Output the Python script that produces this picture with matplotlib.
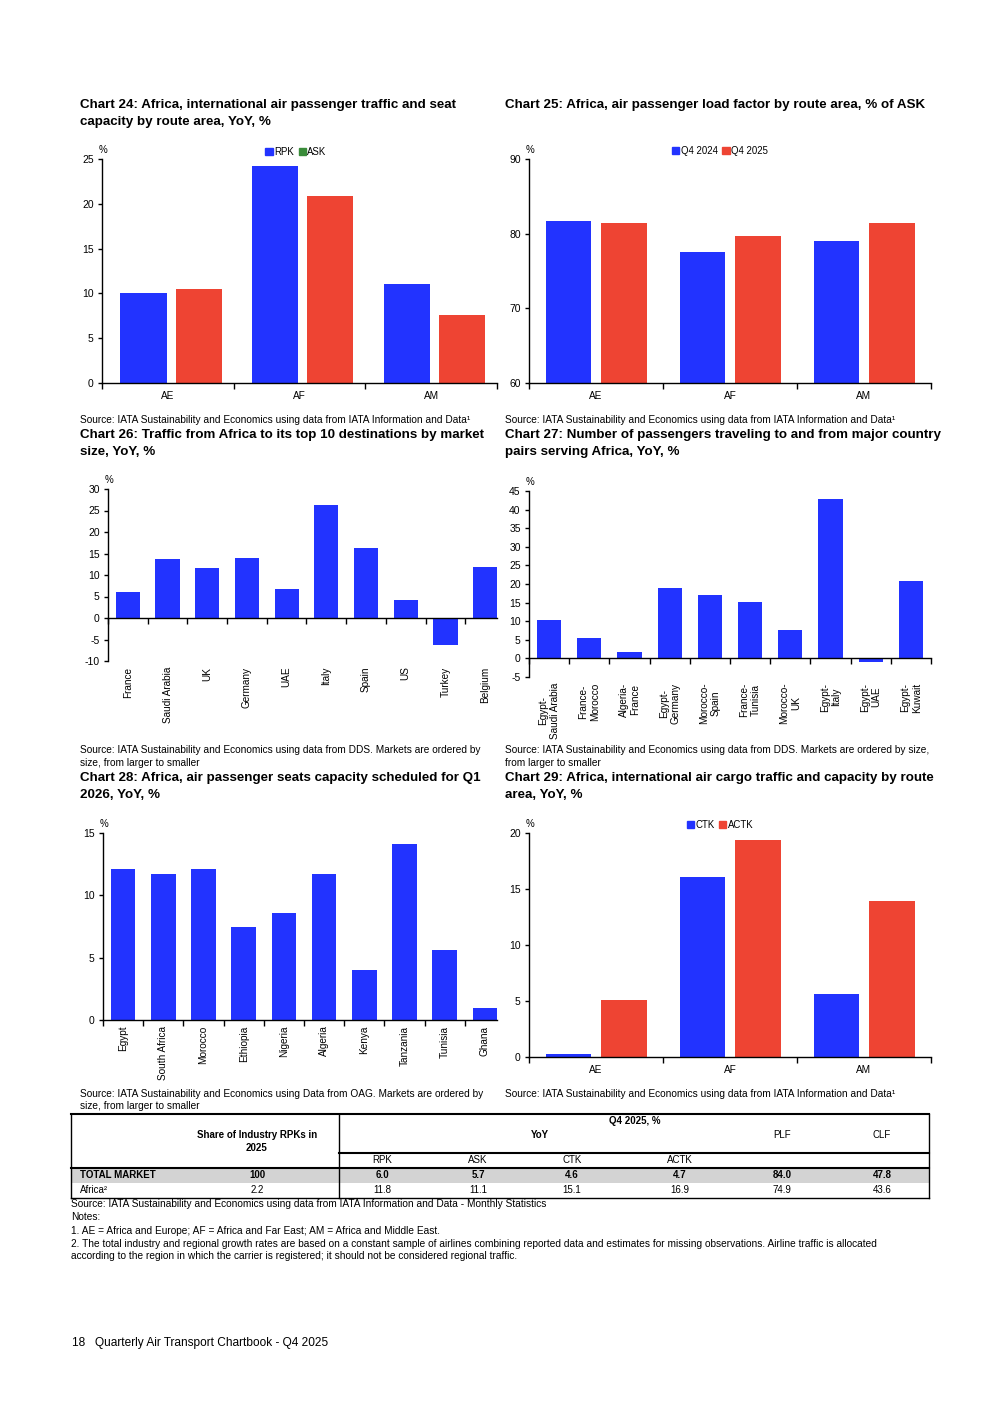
import numpy as np
import matplotlib
matplotlib.use("Agg")
import matplotlib.pyplot as plt
from matplotlib.patches import Patch, Rectangle
from matplotlib.lines import Line2D

plt.rcParams['font.family'] = ['Liberation Sans', 'DejaVu Sans']
plt.rcParams['axes.unicode_minus'] = False

BLUE = '#2233ff'
RED = '#ee4433'
GREEN = '#3a8c3a'

# chart 24
routes = ['AE', 'AF', 'AM']
c24_rpk = [10.1, 24.2, 11.0]
c24_ask = [10.5, 20.9, 7.6]
# chart 25
c25_q4_2024 = [81.7, 77.5, 79.0]
c25_q4_2025 = [81.4, 79.7, 81.4]
# chart 26
c26_dest = ['France', 'Saudi Arabia', 'UK', 'Germany', 'UAE', 'Italy', 'Spain', 'US', 'Turkey', 'Belgium']
c26_yoy = [6.1, 13.8, 11.7, 14.0, 6.8, 26.2, 16.3, 4.3, -6.2, 11.9]
# chart 27
c27_pairs = ['Egypt-\nSaudi Arabia', 'France-\nMorocco', 'Algeria-\nFrance', 'Egypt-\nGermany',
             'Morocco-\nSpain', 'France-\nTunisia', 'Morocco-\nUK', 'Egypt-\nItaly',
             'Egypt-\nUAE', 'Egypt-\nKuwait']
c27_yoy = [10.4, 5.5, 1.8, 18.9, 17.1, 15.2, 7.7, 42.8, -1.1, 20.8]
# chart 28
c28_countries = ['Egypt', 'South Africa', 'Morocco', 'Ethiopia', 'Nigeria', 'Algeria', 'Kenya',
                 'Tanzania', 'Tunisia', 'Ghana']
c28_yoy = [12.1, 11.7, 12.1, 7.5, 8.6, 11.7, 4.0, 14.1, 5.6, 1.0]
# chart 29
c29_ctk = [0.3, 16.1, 5.6]
c29_actk = [5.1, 19.4, 13.9]

# summary table
tbl_cols = ['RPK', 'ASK', 'CTK', 'ACTK', 'PLF', 'CLF']
tbl_rows = ['TOTAL MARKET', 'Africa\u00b2']
tbl_share = ['100', '2.2']
tbl_vals = [['6.0', '5.7', '4.6', '4.7', '84.0', '47.8'],
            ['11.8', '11.1', '15.1', '16.9', '74.9', '43.6']]

W, H = 992, 1403
fig = plt.figure(figsize=(W / 100, H / 100), dpi=100)


def add_ax(l, t, r, b):
    return fig.add_axes([l / W, 1 - b / H, (r - l) / W, (b - t) / H])


def txt(x, y, s, **kw):
    kw.setdefault('va', 'center')
    kw.setdefault('fontsize', 7.3)
    return fig.text(x / W, 1 - y / H, s, **kw)


def style(ax, n, ymin, ymax, step, labels, rot=0, right=None):
    ax.set_xlim(-0.5, n - 0.5 if right is None else right)
    ax.set_ylim(ymin, ymax)
    ax.set_yticks(np.arange(ymin, ymax + step / 2, step))
    for s in ['top', 'right', 'bottom']:
        ax.spines[s].set_visible(False)
    ax.spines['left'].set_linewidth(1.0)
    ax.tick_params(axis='y', length=3, width=1.0, labelsize=7.5, pad=3)
    ax.set_xticks(range(n))
    ax.set_xticklabels(labels, rotation=rot, fontsize=7.2, multialignment='center')
    ax.tick_params(axis='x', length=0, pad=6 if rot == 0 else 4)
    # category axis line (at zero, or at the bottom when zero is off scale)
    base = 0 if ymin < 0 < ymax else ymin
    ax.axhline(base, color='black', lw=1.0, clip_on=False)
    bounds = np.arange(-0.5, ax.get_xlim()[1] + 0.01, 1.0)
    ax.plot(bounds, np.full_like(bounds, base), linestyle='none', marker=3, markersize=4,
            markeredgewidth=1.0, color='black', clip_on=False)
    ax.annotate('%', xy=(0, 1), xycoords='axes fraction', xytext=(1, 6.5),
                textcoords='offset points', ha='center', va='center', fontsize=7)


def legend(handles, labels, xc, yc):
    fig.legend(handles, labels, loc='center', bbox_to_anchor=(xc / W, 1 - yc / H),
               ncol=len(labels), frameon=False, fontsize=6.9, handlelength=0.75,
               handleheight=0.75, handletextpad=0.15, columnspacing=0.5,
               borderpad=0, borderaxespad=0)


x3 = np.arange(len(routes))

# ---- chart 24
ax = add_ax(102, 159, 497, 383)
ax.bar(x3 - 0.185, c24_rpk, width=0.35, color=BLUE)
ax.bar(x3 + 0.235, c24_ask, width=0.35, color=RED)
style(ax, 3, 0, 25, 5, routes)
legend([Patch(color=BLUE), Patch(color=GREEN)], ['RPK', 'ASK'], 296, 152)

# ---- chart 25
ax = add_ax(529, 159, 931, 383)
ax.bar(x3 - 0.205, c25_q4_2024, width=0.34, color=BLUE)
ax.bar(x3 + 0.21, c25_q4_2025, width=0.34, color=RED)
style(ax, 3, 60, 90, 10, routes)
legend([Patch(color=BLUE), Patch(color=RED)], ['Q4 2024', 'Q4 2025'], 720, 151)

# ---- chart 26
ax = add_ax(108, 489, 497, 661)
ax.bar(range(len(c26_dest)), c26_yoy, width=0.61, color=BLUE)
style(ax, len(c26_dest), -10, 30, 5, c26_dest, rot=90, right=9.3)

# ---- chart 27
ax = add_ax(529, 491, 931, 677)
ax.bar(range(len(c27_pairs)), c27_yoy, width=0.6, color=BLUE)
style(ax, len(c27_pairs), -5, 45, 5, c27_pairs, rot=90)

# ---- chart 28
ax = add_ax(103, 833, 497, 1020)
ax.bar(range(len(c28_countries)), c28_yoy, width=0.61, color=BLUE)
style(ax, len(c28_countries), 0, 15, 5, c28_countries, rot=90, right=9.3)

# ---- chart 29
ax = add_ax(529, 833, 931, 1057)
ax.bar(x3 - 0.205, c29_ctk, width=0.34, color=BLUE)
ax.bar(x3 + 0.21, c29_actk, width=0.34, color=RED)
style(ax, 3, 0, 20, 5, routes)
legend([Patch(color=BLUE), Patch(color=RED)], ['CTK', 'ACTK'], 720, 825)

# ---- titles and sources
TS = dict(fontsize=9.6, fontweight='bold')
txt(80, 105, 'Chart 24: Africa, international air passenger traffic and seat', **TS)
txt(80, 122, 'capacity by route area, YoY, %', **TS)
txt(505, 105, 'Chart 25: Africa, air passenger load factor by route area, % of ASK', **TS)
txt(80, 420, 'Source: IATA Sustainability and Economics using data from IATA Information and Data\u00b9')
txt(505, 420, 'Source: IATA Sustainability and Economics using data from IATA Information and Data\u00b9')

txt(80, 435, 'Chart 26: Traffic from Africa to its top 10 destinations by market', **TS)
txt(80, 452, 'size, YoY, %', **TS)
txt(505, 435, 'Chart 27: Number of passengers traveling to and from major country', **TS)
txt(505, 452, 'pairs serving Africa, YoY, %', **TS)
txt(80, 750, 'Source: IATA Sustainability and Economics using data from DDS. Markets are ordered by')
txt(80, 763, 'size, from larger to smaller')
txt(505, 750, 'Source: IATA Sustainability and Economics using data from DDS. Markets are ordered by size,')
txt(505, 763, 'from larger to smaller')

txt(80, 778, 'Chart 28: Africa, air passenger seats capacity scheduled for Q1', **TS)
txt(80, 795, '2026, YoY, %', **TS)
txt(505, 778, 'Chart 29: Africa, international air cargo traffic and capacity by route', **TS)
txt(505, 795, 'area, YoY, %', **TS)
txt(80, 1094, 'Source: IATA Sustainability and Economics using Data from OAG. Markets are ordered by')
txt(80, 1106, 'size, from larger to smaller')
txt(505, 1094, 'Source: IATA Sustainability and Economics using data from IATA Information and Data\u00b9')


# ---- table
def hline(x0, x1, y, lw):
    fig.add_artist(Line2D([x0 / W, x1 / W], [1 - y / H, 1 - y / H], color='black', lw=lw))


def vline(x, y0, y1, lw):
    fig.add_artist(Line2D([x / W, x / W], [1 - y0 / H, 1 - y1 / H], color='black', lw=lw))


TL, TR, TT, TB = 71, 929, 1114, 1198
fig.add_artist(Rectangle((TL / W, 1 - 1183 / H), (TR - TL) / W, 15 / H, facecolor='#d3d3d3',
                         edgecolor='none'))
hline(TL, TR, TT, 1.5)
hline(339, TR, 1153, 1.5)
hline(TL, TR, 1168, 1.5)
hline(TL, TR, TB, 1.0)
vline(TL, TT, TB, 1.0)
vline(TR, TT, TB, 1.0)
vline(339, TT, TB, 1.0)

FS_T = 7.0
col_x = [382, 478, 572, 680, 782, 882]
txt(257, 1135, 'Share of Industry RPKs in', ha='center', fontweight='bold', fontsize=FS_T)
txt(257, 1148, '2025', ha='center', fontweight='bold', fontsize=FS_T)
txt(635, 1121, 'Q4 2025, %', ha='center', fontweight='bold', fontsize=FS_T)
txt(540, 1135, 'YoY', ha='center', fontweight='bold', fontsize=FS_T)
for c, x in zip(tbl_cols, col_x):
    if c in ('PLF', 'CLF'):
        txt(x, 1135, c, ha='center', fontsize=FS_T)
    else:
        txt(x, 1160, c, ha='center', fontsize=FS_T)
row_y = [1175.5, 1190]
for i, (name, share, vals) in enumerate(zip(tbl_rows, tbl_share, tbl_vals)):
    fw = 'bold' if i == 0 else 'normal'
    txt(80, row_y[i], name, fontweight=fw, fontsize=FS_T)
    txt(257, row_y[i], share, ha='center', fontweight=fw, fontsize=FS_T)
    for v, x in zip(vals, col_x):
        txt(x, row_y[i], v, ha='center', fontweight=fw, fontsize=FS_T)

# ---- notes
txt(71, 1204, 'Source: IATA Sustainability and Economics using data from IATA Information and Data - Monthly Statistics')
txt(71, 1217, 'Notes:')
txt(71, 1231, '1. AE = Africa and Europe; AF = Africa and Far East; AM = Africa and Middle East.')
txt(71, 1244, '2. The total industry and regional growth rates are based on a constant sample of airlines combining '
              'reported data and estimates for missing observations. Airline traffic is allocated')
txt(71, 1256, 'according to the region in which the carrier is registered; it should not be considered regional traffic.')

txt(72, 1343, '18   Quarterly Air Transport Chartbook - Q4 2025', fontsize=8.6)

fig.savefig('out.png', dpi=100, facecolor='white')
